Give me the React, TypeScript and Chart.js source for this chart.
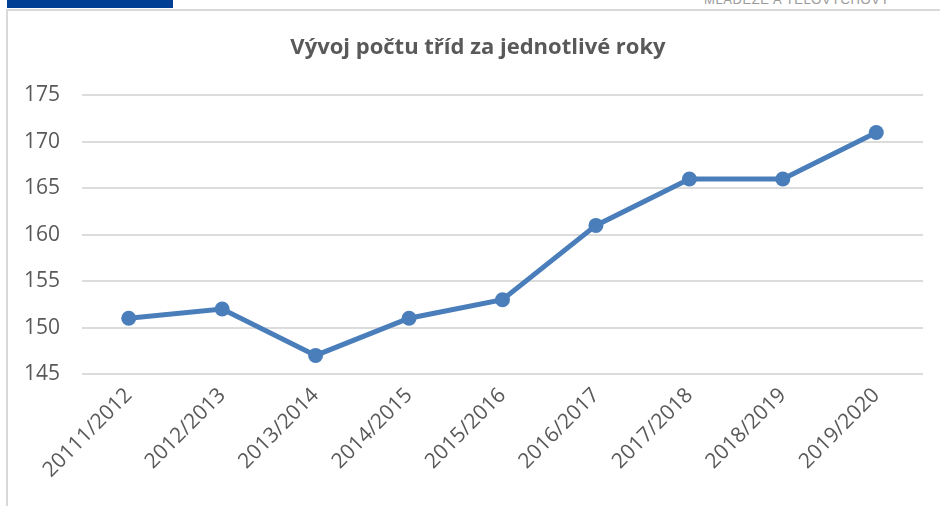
import React, { useEffect, useRef } from "react";
import { Chart, registerables } from "chart.js";

Chart.register(...registerables);

const categories = [
  "20111/2012",
  "2012/2013",
  "2013/2014",
  "2014/2015",
  "2015/2016",
  "2016/2017",
  "2017/2018",
  "2018/2019",
  "2019/2020",
];
const classCounts = [151, 152, 147, 151, 153, 161, 166, 166, 171];
const yMin = 145;
const yMax = 175;
const yStep = 5;
const titleText = "Vývoj počtu tříd za jednotlivé roky";
const headerText = "MLÁDEŽE A TĚLOVÝCHOVY";

const FONT = "'Open Sans', 'Noto Sans', sans-serif";

export default function App() {
  const canvasRef = useRef<HTMLCanvasElement | null>(null);

  useEffect(() => {
    if (!canvasRef.current) return;
    const chart = new Chart(canvasRef.current, {
      type: "line",
      data: {
        labels: categories,
        datasets: [
          {
            data: classCounts,
            borderColor: "#4a7ebb",
            backgroundColor: "#4a7ebb",
            borderWidth: 5,
            pointRadius: 7.5,
            pointBackgroundColor: "#4a7ebb",
            pointBorderColor: "#4a7ebb",
            pointBorderWidth: 0,
            tension: 0,
          },
        ],
      },
      options: {
        animation: false,
        responsive: false,
        maintainAspectRatio: false,
        layout: { padding: { left: 0, right: 0, top: 0, bottom: 0 } },
        plugins: {
          legend: { display: false },
          tooltip: { enabled: false },
          title: {
            display: true,
            text: titleText,
            color: "#595959",
            font: { family: FONT, size: 22, weight: "bold" },
            padding: { top: 24, bottom: 34 },
          },
        },
        scales: {
          x: {
            offset: true,
            grid: { display: false, drawTicks: false },
            border: { display: false },
            ticks: {
              color: "#595959",
              font: { family: FONT, size: 21 },
              minRotation: 45,
              maxRotation: 45,
              autoSkip: false,
              padding: 9,
            },
            afterFit: (scale: any) => {
              scale.height = 132;
            },
          },
          y: {
            min: yMin,
            max: yMax,
            grid: { color: "#dcdcdc", lineWidth: 2, drawTicks: false },
            border: { display: false },
            ticks: {
              stepSize: yStep,
              color: "#595959",
              font: { family: FONT, size: 21 },
              padding: 22,
            },
            afterFit: (scale: any) => {
              scale.width = 74;
            },
          },
          spacer: {
            type: "linear",
            position: "right",
            display: true,
            grid: { display: false, drawTicks: false },
            border: { display: false },
            ticks: { display: false },
            afterFit: (scale: any) => {
              scale.width = 25;
            },
          },
        },
      },
    });
    return () => chart.destroy();
  }, []);

  return (
    <div>
      <div
        style={{
          position: "absolute",
          left: 7,
          top: 0,
          width: 166,
          height: 8,
          background: "#003f94",
        }}
      />
      <div
        style={{
          position: "absolute",
          left: 704,
          top: -8,
          fontFamily: "'Liberation Sans', Arial, sans-serif",
          fontSize: 13,
          letterSpacing: 0.6,
          color: "#9a9a9a",
          whiteSpace: "nowrap",
        }}
      >
        {headerText}
      </div>
      <div
        style={{
          position: "absolute",
          left: 6,
          top: 9,
          width: 932,
          height: 495,
          borderLeft: "2px solid #d9d9d9",
          borderTop: "2px solid #d9d9d9",
        }}
      />
      <div
        style={{
          position: "absolute",
          left: 8,
          top: 11,
          width: 932,
          height: 495,
          overflow: "hidden",
        }}
      >
        <canvas ref={canvasRef} width={940} height={495} style={{ display: "block" }} />
      </div>
    </div>
  );
}
